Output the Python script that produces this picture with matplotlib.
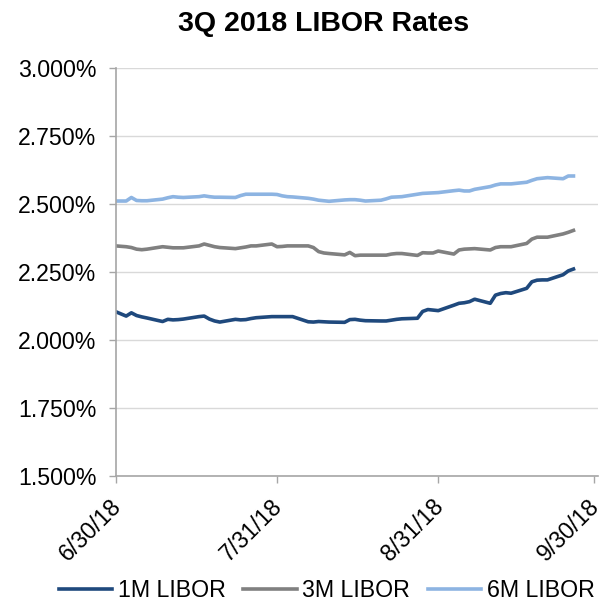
import matplotlib
matplotlib.use("Agg")
import matplotlib.pyplot as plt
import matplotlib.transforms as mtransforms
import pandas as pd

plt.rcParams['font.family'] = ['Liberation Sans', 'DejaVu Sans']

title = "3Q 2018 LIBOR Rates"
series_names = ["1M LIBOR", "3M LIBOR", "6M LIBOR"]
colors = ["#1F497D", "#808080", "#8DB4E2"]

dates = [pd.Timestamp("2018-06-30")] + list(pd.bdate_range("2018-07-02", "2018-09-26"))

libor_1m = [2.104, 2.088, 2.100, 2.090, 2.085, 2.081,
            2.068, 2.076, 2.074, 2.075, 2.077,
            2.086, 2.088, 2.077, 2.070, 2.066,
            2.076, 2.074, 2.075, 2.079, 2.082,
            2.086, 2.086, 2.086, 2.086, 2.086,
            2.067, 2.066, 2.068, 2.067, 2.066,
            2.065, 2.075, 2.076, 2.073, 2.071,
            2.070, 2.070, 2.073, 2.076, 2.078,
            2.080, 2.105, 2.112, 2.110, 2.108,
            2.128, 2.135, 2.137, 2.141, 2.150,
            2.135, 2.165, 2.171, 2.174, 2.172,
            2.190, 2.214, 2.220, 2.221, 2.221,
            2.240, 2.254, 2.261]

libor_3m = [2.346, 2.343, 2.340, 2.334, 2.332, 2.334,
            2.343, 2.341, 2.339, 2.339, 2.339,
            2.346, 2.353, 2.348, 2.343, 2.340,
            2.336, 2.339, 2.342, 2.346, 2.346,
            2.353, 2.343, 2.344, 2.346, 2.346,
            2.346, 2.340, 2.325, 2.320, 2.318,
            2.313, 2.322, 2.310, 2.312, 2.312,
            2.312, 2.312, 2.316, 2.318, 2.318,
            2.311, 2.321, 2.320, 2.320, 2.327,
            2.316, 2.331, 2.334, 2.335, 2.336,
            2.331, 2.340, 2.343, 2.343, 2.343,
            2.355, 2.371, 2.378, 2.378, 2.378,
            2.390, 2.396, 2.403]

libor_6m = [2.511, 2.511, 2.524, 2.513, 2.512, 2.512,
            2.518, 2.523, 2.527, 2.525, 2.524,
            2.527, 2.530, 2.527, 2.525, 2.525,
            2.524, 2.531, 2.536, 2.536, 2.536,
            2.536, 2.535, 2.530, 2.527, 2.526,
            2.521, 2.518, 2.514, 2.512, 2.510,
            2.515, 2.516, 2.516, 2.514, 2.511,
            2.514, 2.519, 2.525, 2.526, 2.527,
            2.536, 2.539, 2.540, 2.541, 2.542,
            2.549, 2.551, 2.548, 2.548, 2.554,
            2.564, 2.570, 2.574, 2.574, 2.574,
            2.580, 2.587, 2.593, 2.595, 2.597,
            2.593, 2.603, 2.603]

xtick_dates = ["2018-06-30", "2018-07-31", "2018-08-31", "2018-09-30"]
xtick_labels = ["6/30/18", "7/31/18", "8/31/18", "9/30/18"]
yticks = [1.5, 1.75, 2.0, 2.25, 2.5, 2.75, 3.0]

fig = plt.figure(figsize=(6.03, 6.03), dpi=100)
ax = fig.add_axes([0.192, 0.2106, 0.8, 0.6766])

for vals, name, c in zip([libor_1m, libor_3m, libor_6m], series_names, colors):
    ax.plot(dates, vals, color=c, lw=2.6, label=name, solid_joinstyle='round')

ax.set_ylim(1.5, 3.0)
ax.set_yticks(yticks)
ax.set_yticklabels([f"{v:.3f}%" for v in yticks])
xt = [pd.Timestamp(d) for d in xtick_dates]
ax.set_xlim(pd.Timestamp("2018-06-30"), pd.Timestamp("2018-09-30") + pd.Timedelta(hours=18))
ax.set_xticks(xt)
ax.set_xticklabels(xtick_labels, rotation=45, ha='right', va='center', rotation_mode='anchor')

ax.grid(axis='y', color='#D9D9D9', lw=1)
ax.set_axisbelow(True)
for s in ['top', 'right']:
    ax.spines[s].set_visible(False)
for s in ['left', 'bottom']:
    ax.spines[s].set_color('#A6A6A6')
    ax.spines[s].set_linewidth(1.2)
ax.tick_params(axis='both', colors='#A6A6A6', length=5, width=1, labelcolor='black', labelsize=16.7)
ax.tick_params(axis='y', pad=9)
ax.tick_params(axis='x', pad=14.5)

offset = mtransforms.ScaledTranslation(2 / 100, 0, fig.dpi_scale_trans)
for lbl in ax.get_xticklabels():
    lbl.set_transform(lbl.get_transform() + offset)

ax.set_title(title, fontsize=20.5, fontweight='bold', pad=27, x=0.43)

ax.legend(loc='center', bbox_to_anchor=(0.542, 0.021), bbox_transform=fig.transFigure,
          ncol=3, frameon=False, fontsize=16.7, handlelength=2.3, handletextpad=0.25,
          columnspacing=0.75, borderpad=0)

fig.savefig("out.png", dpi=100)
